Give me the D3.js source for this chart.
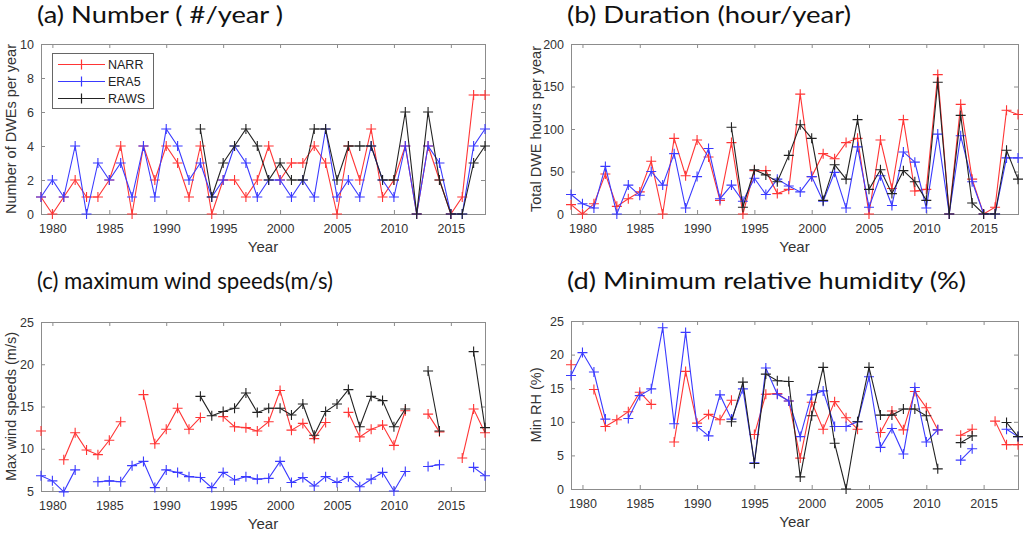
<!DOCTYPE html>
<html><head><meta charset="utf-8">
<script src="https://cdn.jsdelivr.net/npm/d3@7"></script>
<style>body{margin:0;background:#fff}svg{display:block}</style>
</head><body><svg id="chart" width="1024" height="533"></svg>
<script>
// ---- categories ----
const years = [1979,1980,1981,1982,1983,1984,1985,1986,1987,1988,1989,1990,1991,1992,1993,1994,1995,1996,1997,1998,
               1999,2000,2001,2002,2003,2004,2005,2006,2007,2008,2009,2010,2011,2012,2013,2014,2015,2016,2017,2018];
const xTickYears = [1980,1985,1990,1995,2000,2005,2010,2015];
const seriesNames = ["NARR","ERA5","RAWS"];
const N = null;

// ---- (a) number of DWEs per year ----
const numNARR = [1,0,1,2,1,1,2,4,0,4,2,4,3,1,4,0,2,2,1,2, 4,2,3,3,4,3,0,4,2,5,1,2,4,0,4,2,0,1,7,7];
const numERA5 = [1,2,1,4,0,3,2,3,1,4,1,5,4,2,3,1,2,4,3,1, 2,2,1,2,1,5,1,2,1,4,2,1,4,0,4,3,0,0,4,5];
const numRAWS = [N,N,N,N,N,N,N,N,N,N,N,N,N,N,5,1,3,4,5,4, 2,3,2,2,5,5,2,4,4,4,2,2,6,0,6,2,0,0,3,4];
const numTicks = [0,2,4,6,8,10];

// ---- (b) duration hours per year ----
const durNARR = [11,0,12,47,9,18,26,62,0,89,45,87,67,16,84,0,51,51,24,29, 141,44,71,65,84,89,0,87,30,111,27,29,164,0,129,41,0,8,122,117];
const durERA5 = [23,12,7,56,0,34,22,50,34,71,7,44,77,18,34,15,42,23,41,33, 26,44,15,49,7,79,8,45,10,73,61,7,94,0,92,38,0,0,66,66];
const durRAWS = [N,N,N,N,N,N,N,N,N,N,N,N,N,N,102,8,52,46,38,69, 105,89,16,58,41,111,29,52,24,51,38,16,155,0,116,13,0,0,75,41];
const durTicks = [0,50,100,150,200];

// ---- (c) maximum wind speed (m/s) ----
const wsNARR = [12.1,N,8.7,11.9,9.85,9.3,11.0,13.2,N,16.4,10.6,12.3,14.8,12.3,13.7,N,13.8,12.6,12.5,12.1,
                13.2,16.9,12.2,13.0,11.2,13.1,N,14.3,11.4,12.3,12.8,10.4,14.5,N,14.1,12.0,N,8.9,14.7,11.9];
const wsERA5 = [6.8,6.2,4.9,7.5,N,6.1,6.2,6.1,8.0,8.5,5.4,7.5,7.2,6.7,6.6,5.4,7.2,6.3,6.7,6.4,
                6.5,8.5,6.0,6.6,5.6,6.7,6.0,6.7,5.5,6.4,7.2,5.0,7.3,N,7.9,8.1,N,N,7.8,6.8];
const wsRAWS = [N,N,N,N,N,N,N,N,N,N,N,N,N,N,16.2,13.9,14.4,14.8,16.6,14.3,
                14.8,14.8,14.0,15.3,11.6,14.4,15.3,17.0,12.6,16.2,15.7,12.6,14.7,N,19.2,12.1,N,N,21.5,12.5];
const wsTicks = [5,10,15,20,25];

// ---- (d) minimum relative humidity (%) ----
const rhNARR = [18.5,N,14.8,9.3,10.3,11.5,14.4,12.6,N,7.0,17.5,9.8,11.1,10.3,13.2,N,8.1,14.1,14.2,13.1,
                4.6,12.9,8.9,13.0,10.6,8.9,N,8.4,11.6,8.8,14.5,12.1,8.8,N,8.0,8.9,N,10.1,6.6,6.6];
const rhERA5 = [16.9,20.3,17.4,10.4,N,10.5,13.9,14.9,24.0,9.7,23.3,9.3,7.9,14.0,10.4,14.9,3.9,18.0,14.1,13.1,
                7.8,14.0,14.6,9.3,9.3,10.0,16.7,6.2,9.0,5.2,15.1,7.0,8.8,N,4.3,6.0,N,N,8.9,7.8];
const rhRAWS = [N,N,N,N,N,N,N,N,N,N,N,N,N,N,10.0,15.9,3.8,17.1,16.1,16.0,
                1.8,10.9,18.1,6.8,0,10.0,18.1,11.0,11.0,11.9,11.9,10.9,3.0,N,6.9,7.9,N,N,9.9,7.8];
const rhTicks = [0,5,10,15,20,25];

// ---- style ----
const colors = ["#ff3535","#3a3aff","#222222"];
const axisColor = "#8c8c8c";
const labelColor = "#333";
const sansFont = "'Liberation Sans', Arial, sans-serif";
const titleFont = "Lato, 'Open Sans', sans-serif";

const panels = [
  {title:"(a) Number ( #/year )", tx:37, ty:23, tw:246, ylabel:"Number of DWEs per year", ylx:11,
   x0:41, x1:485, y0:44, y1:214, ydom:[0,10], yticks:numTicks, data:[numNARR,numERA5,numRAWS], legend:true},
  {title:"(b) Duration (hour/year)", tx:567, ty:23, tw:284, ylabel:"Total DWE hours per year", ylx:536,
   x0:571, x1:1018, y0:44, y1:214, ydom:[0,200], yticks:durTicks, data:[durNARR,durERA5,durRAWS]},
  {title:"(c) maximum wind speeds(m/s)", tx:37, ty:289, tw:296, ylabel:"Max wind speeds (m/s)", ylx:11,
   x0:41, x1:485, y0:322, y1:491, ydom:[5,25], yticks:wsTicks, data:[wsNARR,wsERA5,wsRAWS]},
  {title:"(d) Minimum relative humidity (%)", tx:567, ty:289, tw:399, ylabel:"Min RH (%)", ylx:536,
   x0:571, x1:1018, y0:321, y1:489, ydom:[0,25], yticks:rhTicks, data:[rhNARR,rhERA5,rhRAWS]}
];

const svg = d3.select("#chart");
svg.append("rect").attr("width",1024).attr("height",533).attr("fill","#fff");

const plus = "M-5,0H5M0,-5V5";

panels.forEach(p => {
  const x = d3.scaleLinear().domain([years[0], years[years.length-1]]).range([p.x0, p.x1]);
  const y = d3.scaleLinear().domain(p.ydom).range([p.y1, p.y0]);
  const g = svg.append("g");

  // title
  g.append("text").attr("x", p.tx).attr("y", p.ty).text(p.title)
    .attr("font-family", titleFont).attr("font-size", 23).attr("fill", "#111")
    .attr("textLength", p.tw).attr("lengthAdjust", "spacingAndGlyphs");

  // axes
  const styleAxis = sel => {
    sel.select(".domain").remove();
    sel.selectAll(".tick line").attr("stroke", axisColor);
    sel.selectAll("text").attr("fill", labelColor).attr("font-family", sansFont).attr("font-size", 12.5);
  };
  g.append("g").attr("transform", `translate(0,${p.y1})`)
    .call(d3.axisBottom(x).tickValues(xTickYears).tickFormat(d3.format("d")).tickSize(-4).tickPadding(10))
    .call(styleAxis);
  g.append("g").attr("transform", `translate(0,${p.y0})`)
    .call(d3.axisTop(x).tickValues(xTickYears).tickFormat("").tickSize(-4))
    .call(styleAxis);
  g.append("g").attr("transform", `translate(${p.x0},0)`)
    .call(d3.axisLeft(y).tickValues(p.yticks).tickFormat(d3.format("d")).tickSize(-4).tickPadding(7))
    .call(styleAxis);
  g.append("g").attr("transform", `translate(${p.x1},0)`)
    .call(d3.axisRight(y).tickValues(p.yticks).tickFormat("").tickSize(-4))
    .call(styleAxis);
  g.append("rect").attr("x", p.x0 + 0.5).attr("y", p.y0 + 0.5).attr("width", p.x1 - p.x0).attr("height", p.y1 - p.y0)
    .attr("fill", "none").attr("stroke", axisColor).attr("stroke-width", 1);

  // axis labels
  g.append("text").attr("x", (p.x0 + p.x1) / 2).attr("y", p.y1 + 38).attr("text-anchor", "middle")
    .attr("font-family", sansFont).attr("font-size", 15).attr("fill", labelColor).text("Year");
  g.append("text").attr("transform", `translate(${p.ylx},${(p.y0 + p.y1) / 2}) rotate(-90)`)
    .attr("text-anchor", "middle").attr("dy", "0.35em")
    .attr("font-family", sansFont).attr("font-size", 14.5).attr("fill", labelColor).text(p.ylabel);

  // series
  const line = d3.line().defined(d => d.v !== null).x(d => x(d.year)).y(d => y(d.v));
  p.data.forEach((arr, i) => {
    const pts = years.map((yr, k) => ({year: yr, v: arr[k]}));
    g.append("path").datum(pts).attr("d", line).attr("fill", "none")
      .attr("stroke", colors[i]).attr("stroke-width", 1.1);
    g.append("g").selectAll("path").data(pts.filter(d => d.v !== null)).join("path")
      .attr("transform", d => `translate(${x(d.year)},${y(d.v)})`)
      .attr("d", plus).attr("stroke", colors[i]).attr("stroke-width", 1.1).attr("fill", "none");
  });

  // legend
  if (p.legend) {
    const lg = svg.append("g").attr("class", "legend");
    lg.append("rect").attr("x", 52.5).attr("y", 53.5).attr("width", 101).attr("height", 55)
      .attr("fill", "#fff").attr("stroke", "#666").attr("stroke-width", 1);
    seriesNames.forEach((name, i) => {
      const ly = 64.5 + i * 17;
      lg.append("path").attr("d", `M58,${ly}H105M81.5,${ly - 5}V${ly + 5}`)
        .attr("fill", "none").attr("stroke", colors[i]).attr("stroke-width", 1.2);
      lg.append("text").attr("x", 108).attr("y", ly).attr("dy", "0.36em")
        .attr("font-family", sansFont).attr("font-size", 12.5).attr("fill", "#222").text(name);
    });
  }
});
</script>
</body></html>
